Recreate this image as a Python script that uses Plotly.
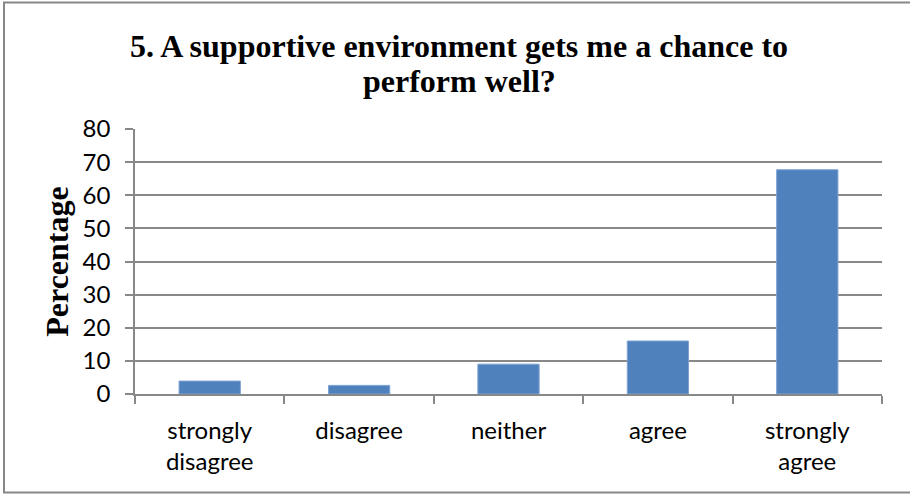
import plotly.graph_objects as go

# Survey responses (percentage of respondents)
categories = ["strongly<br>disagree", "disagree", "neither", "agree", "strongly<br>agree"]
percentages = [3.9, 2.6, 9.0, 16.0, 67.7]
y_ticks = [0, 10, 20, 30, 40, 50, 60, 70, 80]
title_lines = ["5. A supportive environment gets me a chance to", "perform well?"]

W, H = 910, 495
ML, MR, MT, MB = 135, 28, 129, 101
plot_w = W - ML - MR
plot_h = H - MT - MB


def px_x(x):
    return (x - ML) / plot_w


def px_y(y):
    return (H - MB - y) / plot_h


serif_bold = dict(family="Liberation Serif", size=32, color="black", weight="bold")
tick_font = dict(family="Lato", size=24, color="black")

fig = go.Figure(
    go.Bar(
        x=categories,
        y=percentages,
        marker=dict(color="#4F81BD", line=dict(color="#7EA2D3", width=1)),
        width=0.41,
        hoverinfo="x+y",
    )
)

# Two-line heading, each line placed separately for tight line spacing
title_annotations = [
    dict(
        text=line,
        xref="paper",
        yref="paper",
        x=px_x(459),
        y=px_y(cy),
        xanchor="center",
        yanchor="middle",
        showarrow=False,
        font=serif_bold,
    )
    for line, cy in zip(title_lines, [46, 81])
]

fig.update_layout(
    width=W,
    height=H,
    margin=dict(l=ML, r=MR, t=MT, b=MB),
    paper_bgcolor="white",
    plot_bgcolor="white",
    showlegend=False,
    annotations=title_annotations,
    xaxis=dict(
        type="category",
        tickson="boundaries",
        ticks="outside",
        ticklen=8,
        tickcolor="#888888",
        tickwidth=1.5,
        showline=True,
        linecolor="#888888",
        linewidth=1.5,
        showgrid=False,
        tickfont=tick_font,
        ticklabelstandoff=14,
    ),
    yaxis=dict(
        range=[0, 80],
        tickvals=y_ticks,
        ticks="outside",
        ticklen=8,
        tickcolor="#888888",
        tickwidth=1.5,
        showline=True,
        linecolor="#888888",
        linewidth=1.5,
        showgrid=True,
        gridcolor="#888888",
        gridwidth=1.5,
        zeroline=False,
        tickfont=tick_font,
        ticklabelstandoff=10,
        title=dict(text="Percentage", font=serif_bold, standoff=4),
    ),
    bargap=0.59,
    shapes=[
        dict(
            type="rect",
            xref="paper",
            yref="paper",
            x0=px_x(4),
            x1=px_x(W + 5),
            y0=px_y(492.5),
            y1=px_y(2.5),
            line=dict(color="#888888", width=2),
            fillcolor="rgba(0,0,0,0)",
            layer="below",
        )
    ],
)

fig.write_html("out.html")
